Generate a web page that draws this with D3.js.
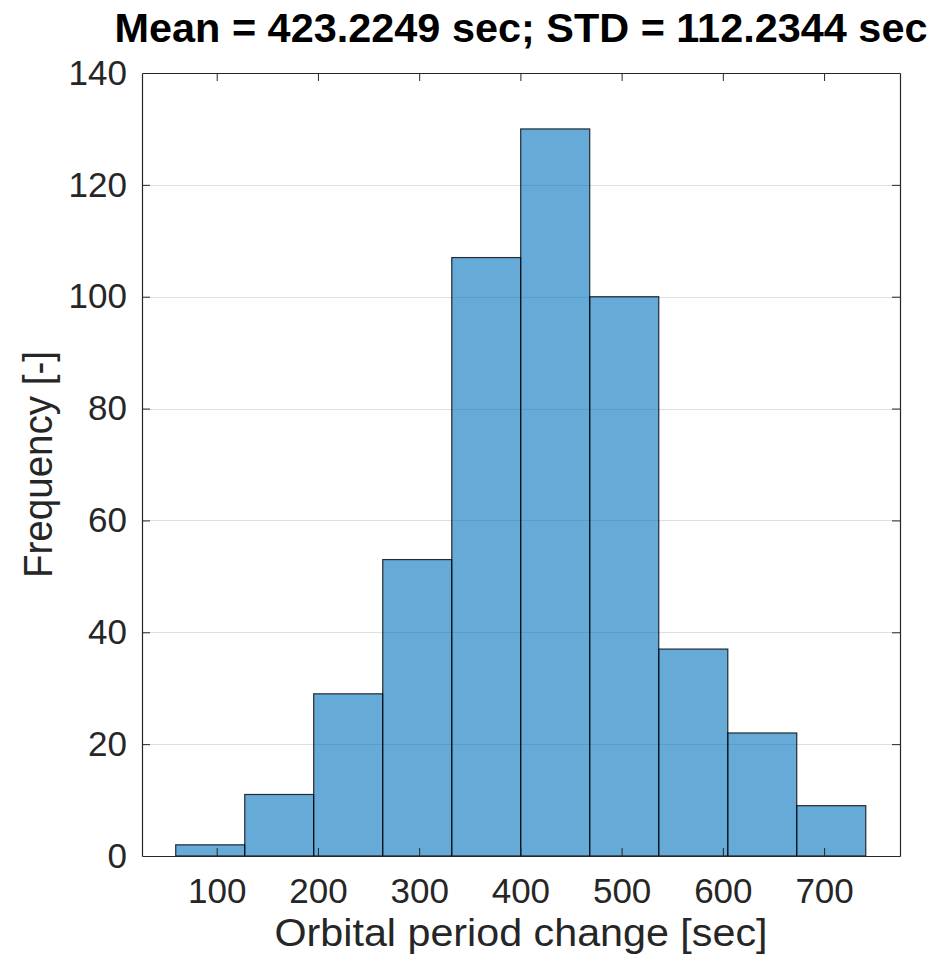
<!DOCTYPE html>
<html>
<head>
<meta charset="utf-8">
<script src="https://cdn.jsdelivr.net/npm/d3@7"></script>
<style>
  html, body { margin: 0; padding: 0; background: #fff; }
  svg { display: block; }
  text { font-family: "Liberation Sans", Arial, Helvetica, sans-serif; }
</style>
</head>
<body>
<div id="chart"></div>
<script>
// ---- data ----
const binEdges = [59.5, 127.7, 195.8, 264.0, 332.2, 400.3, 468.5, 536.7, 604.9, 673.0, 741.2];
const counts = [2, 11, 29, 53, 107, 130, 100, 37, 22, 9];
const xTicks = [100, 200, 300, 400, 500, 600, 700];
const yTicks = [0, 20, 40, 60, 80, 100, 120, 140];
const xDomain = [26.2, 775];
const yDomain = [0, 140];
const titleText = "Mean = 423.2249 sec; STD = 112.2344 sec";
const xLabelText = "Orbital period change [sec]";
const yLabelText = "Frequency [-]";

// ---- layout ----
const W = 943, H = 956;
const mLeft = 142, mRight = 900, mTop = 73, mBottom = 856;
const axisColor = "#262626";

const svg = d3.select("#chart").append("svg")
  .attr("width", W).attr("height", H);

const x = d3.scaleLinear().domain(xDomain).range([mLeft, mRight]);
const y = d3.scaleLinear().domain(yDomain).range([mBottom, mTop]);

// grid (horizontal only)
svg.append("g")
  .selectAll("line")
  .data(yTicks.filter(t => t > yDomain[0] && t < yDomain[1]))
  .join("line")
  .attr("x1", mLeft).attr("x2", mRight)
  .attr("y1", d => Math.round(y(d)) + 0.5).attr("y2", d => Math.round(y(d)) + 0.5)
  .attr("stroke", "#262626").attr("stroke-opacity", 0.15).attr("stroke-width", 1);

// bars
const bins = counts.map((c, i) => ({ x0: binEdges[i], x1: binEdges[i + 1], c }));
svg.append("g")
  .selectAll("rect")
  .data(bins)
  .join("rect")
  .attr("x", d => x(d.x0))
  .attr("y", d => y(d.c))
  .attr("width", d => x(d.x1) - x(d.x0))
  .attr("height", d => y(0) - y(d.c))
  .attr("fill", "#0072BD").attr("fill-opacity", 0.6)
  .attr("stroke", "#000").attr("stroke-opacity", 0.8).attr("stroke-width", 1.2);

// axes
const fs = 35;
const gx = svg.append("g").attr("transform", `translate(0,${mBottom})`)
  .call(d3.axisBottom(x).tickValues(xTicks).tickSizeInner(-8).tickSizeOuter(0).tickPadding(22));
const gxt = svg.append("g").attr("transform", `translate(0,${mTop})`)
  .call(d3.axisTop(x).tickValues(xTicks).tickSizeInner(-8).tickSizeOuter(0).tickFormat(""));
const gy = svg.append("g").attr("transform", `translate(${mLeft},0)`)
  .call(d3.axisLeft(y).tickValues(yTicks).tickSizeInner(-8).tickSizeOuter(0).tickPadding(15));
const gyr = svg.append("g").attr("transform", `translate(${mRight},0)`)
  .call(d3.axisRight(y).tickValues(yTicks).tickSizeInner(-8).tickSizeOuter(0).tickFormat(""));

[gx, gxt, gy, gyr].forEach(g => {
  g.select(".domain").attr("stroke", axisColor).attr("stroke-width", 1.2);
  g.selectAll(".tick line").attr("stroke", axisColor).attr("stroke-width", 1);
  g.selectAll(".tick text").attr("fill", axisColor)
    .style("font-size", fs + "px")
    .style("font-family", "'Liberation Sans', Arial, Helvetica, sans-serif");
});
gy.selectAll(".tick").filter(d => d === 0 || d === 140).select("line").remove();
gyr.selectAll(".tick").filter(d => d === 0 || d === 140).select("line").remove();

// title
svg.append("text")
  .attr("x", (mLeft + mRight) / 2).attr("y", 42)
  .attr("text-anchor", "middle")
  .attr("font-weight", "bold")
  .attr("font-size", 40)
  .attr("fill", "#000")
  .attr("textLength", 813).attr("lengthAdjust", "spacingAndGlyphs")
  .text(titleText);

// x label
svg.append("text")
  .attr("x", (mLeft + mRight) / 2).attr("y", 946)
  .attr("text-anchor", "middle")
  .attr("font-size", 38)
  .attr("fill", axisColor)
  .attr("textLength", 493).attr("lengthAdjust", "spacingAndGlyphs")
  .text(xLabelText);

// y label
svg.append("text")
  .attr("transform", `translate(51.5,${(mTop + mBottom) / 2}) rotate(-90)`)
  .attr("text-anchor", "middle")
  .attr("font-size", 40)
  .attr("fill", axisColor)
  .attr("textLength", 227).attr("lengthAdjust", "spacingAndGlyphs")
  .text(yLabelText);
</script>
</body>
</html>
